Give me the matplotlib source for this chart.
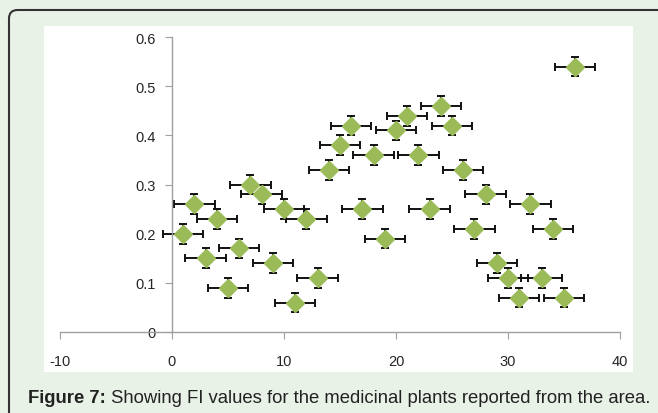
import matplotlib
matplotlib.use("Agg")
import matplotlib.pyplot as plt
from matplotlib.patches import Rectangle, FancyBboxPatch

plt.rcParams['axes.unicode_minus'] = False
plt.rcParams['font.family'] = ['Liberation Sans', 'DejaVu Sans']

x_vals = list(range(1, 37))
fi_vals = [0.20, 0.26, 0.15, 0.23, 0.09, 0.17, 0.30, 0.28, 0.14, 0.25,
           0.06, 0.23, 0.11, 0.33, 0.38, 0.42, 0.25, 0.36, 0.19, 0.41,
           0.44, 0.36, 0.25, 0.46, 0.42, 0.33, 0.21, 0.28, 0.14, 0.11,
           0.07, 0.26, 0.11, 0.21, 0.07, 0.54]
x_err = 1.8
y_err = 0.02
x_ticks = [-10, 0, 10, 20, 30, 40]
y_ticks = [0, 0.1, 0.2, 0.3, 0.4, 0.5, 0.6]
y_tick_labels = ['0', '0.1', '0.2', '0.3', '0.4', '0.5', '0.6']
caption_bold = "Figure 7:"
caption_rest = " Showing FI values for the medicinal plants reported from the area."

W, H = 658, 414
fig = plt.figure(figsize=(W/100, H/100), dpi=100)
fig.patch.set_facecolor('#e8f2e6')

# rounded border
border = FancyBboxPatch((9/W, -0.2), 1.2, (414-11)/H + 0.2,
                        boxstyle="round,pad=0,rounding_size=0.013",
                        transform=fig.transFigure, facecolor='none',
                        edgecolor='#333333', lw=1.5, mutation_aspect=W/H,
                        zorder=-2)
fig.patches.append(border)
# white plot area
fig.patches.append(Rectangle((44/W, (H-373)/H), (633-44)/W, (373-27)/H,
                             transform=fig.transFigure, facecolor='white',
                             edgecolor='none', zorder=-1))

ax = fig.add_axes([60/W, (H-333)/H, (620-60)/W, (333-38)/H])
ax.set_facecolor('none')
ax.errorbar(x_vals, fi_vals, xerr=x_err, yerr=y_err, fmt='D',
            color='#9bbb59', markersize=9.5, markeredgecolor='#9bbb59',
            ecolor='#111111', elinewidth=1.4, capsize=2.6, capthick=1.4,
            clip_on=False)
ax.set_xlim(-10, 40)
ax.set_ylim(0, 0.6)
ax.spines['left'].set_position(('data', 0))
ax.spines['bottom'].set_position(('data', 0))
ax.spines['top'].set_visible(False)
ax.spines['right'].set_visible(False)
for s in ('left', 'bottom'):
    ax.spines[s].set_color('#a0a0a0')
    ax.spines[s].set_linewidth(1.0)
ax.set_xticks(x_ticks)
ax.set_yticks(y_ticks)
ax.set_yticklabels(y_tick_labels)
ax.tick_params(axis='both', direction='out', length=5, color='#a0a0a0',
               labelsize=10.5, labelcolor='#262626')
ax.tick_params(axis='y', pad=7)
ax.tick_params(axis='x', pad=11)

t1 = fig.text(28/W, (H-399)/H, caption_bold, fontsize=13.3, fontweight='bold',
              va='center', ha='left', color='#222222')
fig.canvas.draw()
bb = t1.get_window_extent()
fig.text(bb.x1/W, (H-399)/H, caption_rest, fontsize=13.3, va='center',
         ha='left', color='#222222')

fig.savefig('out.png', dpi=100, facecolor=fig.get_facecolor())
